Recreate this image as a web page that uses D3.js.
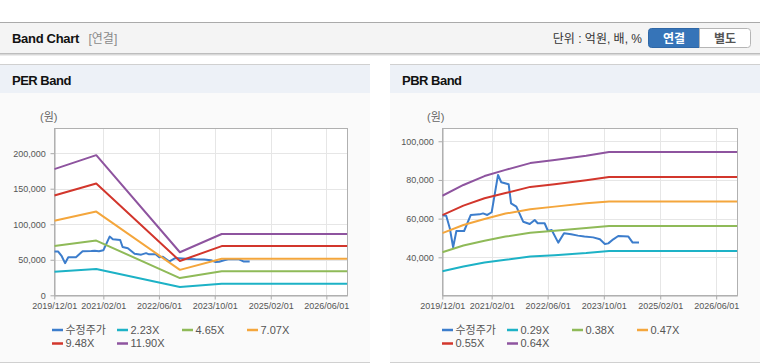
<!DOCTYPE html>
<html><head><meta charset="utf-8">
<script src="https://cdn.jsdelivr.net/npm/d3@7"></script>
<style>
body{margin:0;background:#fff;}
svg{display:block;font-family:"Liberation Sans",Arial,"Noto Sans CJK KR",sans-serif;}
</style>
</head><body>
<svg id="c" width="760" height="364"></svg>
<script>
// ---------- DATA ----------
const priceDates = ["2019-12-01","2020-01-04","2020-02-04","2020-03-04","2020-04-01","2020-06-07","2020-08-04","2020-10-19","2020-11-18","2020-12-25","2021-02-01","2021-03-28","2021-04-25","2021-06-28","2021-07-19","2021-09-03","2021-11-01","2021-12-28","2022-02-09","2022-03-07","2022-05-06","2022-06-04","2022-07-06","2022-09-01","2022-10-21","2022-12-22","2023-02-19","2023-04-16","2023-07-01","2023-08-28","2023-10-10","2023-11-09","2023-12-22","2024-02-03","2024-05-01","2024-06-07","2024-08-01"];
const priceValues = [61700,61500,55000,45200,53600,53600,61900,62200,62700,61900,63300,82600,78800,77800,67900,66200,58400,57200,59300,57600,57600,53600,54100,47600,52400,51900,51200,50700,50300,49300,46900,47200,49300,51000,50700,47600,47600];

const perBandDates = ["2019-12-01","2020-12-01","2022-12-01","2023-12-01","2026-12-01"];
const per223 = [33300,37000,11600,16200,16200];
const per465 = [69400,77000,24200,33900,33900];
const per707 = [105000,117800,35800,51500,51500];
const per948 = [140500,157400,48300,69200,69200];
const per1190 = [177500,197200,60600,86300,86300];
const perLegend = ["수정주가","2.23X","4.65X","7.07X","9.48X","11.90X"];
const perYTicks = [0,50000,100000,150000,200000];
const perYDomain = [0,235000];

const pbrBandDates = ["2019-12-01","2020-06-01","2020-12-01","2021-06-01","2022-01-01","2022-08-01","2023-05-01","2023-11-15","2026-12-01"];
const pbr029 = [32800,35200,37300,38700,40400,41100,42200,43300,43300];
const pbr038 = [42600,46100,48600,50700,52700,53700,55100,56200,56200];
const pbr047 = [52500,56700,59800,62600,64900,66200,67900,68900,68900];
const pbr055 = [61800,66700,70500,73200,76400,77800,79800,81500,81500];
const pbr064 = [71800,77400,82000,85200,88700,90300,92500,94400,94400];
const pbrLegend = ["수정주가","0.29X","0.38X","0.47X","0.55X","0.64X"];
const pbrYTicks = [40000,60000,80000,100000];
const pbrYDomain = [20350,106700];

const xDomain = ["2019-12-01","2026-12-01"];
const xTickDates = ["2019-12-01","2021-02-01","2022-06-01","2023-10-01","2025-02-01","2026-06-01"];
const xTickLabels = ["2019/12/01","2021/02/01","2022/06/01","2023/10/01","2025/02/01","2026/06/01"];

const seriesColors = ["#3c7dcc","#1db2c6","#8fba58","#f4a63c","#d2362c","#8e549f"];

// ---------- LAYOUT ----------
const svg = d3.select("#c");
const parse = d3.timeParse("%Y-%m-%d");

// header
svg.append("rect").attr("x",0).attr("y",22).attr("width",760).attr("height",31).attr("fill","#f4f4f4");
svg.append("line").attr("x1",0).attr("x2",760).attr("y1",22.5).attr("y2",22.5).attr("stroke","#aaa");
[["#bdbdbd",53.5],["#d8d8d8",54.5],["#ececec",55.5]].forEach(([c,y])=>
  svg.append("line").attr("x1",0).attr("x2",760).attr("y1",y).attr("y2",y).attr("stroke",c));
svg.append("text").attr("x",12).attr("y",43).attr("font-size",13).attr("font-weight","bold")
  .attr("letter-spacing","-0.3").attr("fill","#111").text("Band Chart");
svg.append("text").attr("x",88.5).attr("y",42.5).attr("font-size",12).attr("fill","#8a8a8a").text("[연결]");
svg.append("text").attr("x",642).attr("y",43).attr("font-size",12).attr("text-anchor","end").attr("fill","#333").text("단위 : 억원, 배, %");
// buttons
svg.append("path").attr("d","M699.5,28.5 H651.5 Q648.5,28.5 648.5,31.5 V44.5 Q648.5,47.5 651.5,47.5 H699.5 Z")
  .attr("fill","#3674b8").attr("stroke","#2f67a6");
svg.append("path").attr("d","M699.5,28.5 H747.5 Q750.5,28.5 750.5,31.5 V44.5 Q750.5,47.5 747.5,47.5 H699.5 Z")
  .attr("fill","#fff").attr("stroke","#b5b5b5");
svg.append("text").attr("x",674).attr("y",42.5).attr("text-anchor","middle").attr("font-size",12).attr("font-weight","bold").attr("fill","#fff").text("연결");
svg.append("text").attr("x",725).attr("y",42.5).attr("text-anchor","middle").attr("font-size",12).attr("font-weight","bold").attr("fill","#555").text("별도");

function panel(x0, x1, title){
  svg.append("rect").attr("x",x0).attr("y",64).attr("width",x1-x0).attr("height",299).attr("fill","#fafafa");
  svg.append("rect").attr("x",x0).attr("y",64).attr("width",x1-x0).attr("height",29).attr("fill","#edf1f7");
  svg.append("line").attr("x1",x0).attr("x2",x1).attr("y1",64.5).attr("y2",64.5).attr("stroke","#d0d0d0");
  svg.append("line").attr("x1",x0).attr("x2",x1).attr("y1",362.5).attr("y2",362.5).attr("stroke","#d0d0d0");
  svg.append("text").attr("x",x0+12).attr("y",85).attr("font-size",13).attr("font-weight","bold")
    .attr("letter-spacing","-0.5").attr("fill","#111").text(title);
}
panel(0,370,"PER Band");
panel(390,760,"PBR Band");

function chart(o){
  const g = svg.append("g");
  const x = d3.scaleTime().domain(xDomain.map(parse)).range([o.left,o.right]);
  const y = d3.scaleLinear().domain(o.yDomain).range([o.bottom,o.top]);
  g.append("rect").attr("x",o.left).attr("y",o.top).attr("width",o.right-o.left).attr("height",o.bottom-o.top).attr("fill","#fff");
  // grid
  g.selectAll(".gx").data(xTickDates).enter().append("line")
    .attr("x1",d=>Math.round(x(parse(d)))+0.5).attr("x2",d=>Math.round(x(parse(d)))+0.5)
    .attr("y1",o.top).attr("y2",o.bottom).attr("stroke","#e6e6e6");
  g.selectAll(".gy").data(o.yTicks).enter().append("line")
    .attr("x1",o.left).attr("x2",o.right)
    .attr("y1",d=>Math.round(y(d))+0.5).attr("y2",d=>Math.round(y(d))+0.5).attr("stroke","#e6e6e6");
  // axes
  const xa = d3.axisBottom(x).tickValues(xTickDates.map(parse)).tickFormat((d,i)=>xTickLabels[i]).tickSize(4).tickSizeOuter(0);
  const ya = d3.axisLeft(y).tickValues(o.yTicks).tickFormat(d3.format(",")).tickSize(4).tickSizeOuter(0);
  const gx = g.append("g").attr("transform",`translate(0,${Math.round(o.bottom)+0.5})`).call(xa);
  const gy = g.append("g").attr("transform",`translate(${Math.round(o.left)+0.5},0)`).call(ya);
  [gx,gy].forEach(a=>{
    a.selectAll("path,line").attr("stroke","#aaa");
    a.selectAll("text").attr("font-size",9).attr("fill","#555").attr("font-family","inherit");
  });
  gx.selectAll("text").attr("dy","0.71em");
  gy.selectAll("text").attr("dx","-0.2em");
  // frame
  g.append("rect").attr("x",Math.round(o.left)+0.5).attr("y",Math.round(o.top)+0.5)
    .attr("width",Math.round(o.right-o.left)).attr("height",Math.round(o.bottom-o.top))
    .attr("fill","none").attr("stroke","#b0b0b0");
  g.append("text").attr("x",o.unitX).attr("y",121).attr("font-size",11).attr("fill","#666").text("(원)");
  // lines
  const line = d3.line().x(d=>x(d[0])).y(d=>y(d[1]));
  const clip = "clip"+o.id;
  svg.append("clipPath").attr("id",clip).append("rect").attr("x",o.left).attr("y",o.top).attr("width",o.right-o.left).attr("height",o.bottom-o.top);
  const lg = g.append("g").attr("clip-path",`url(#${clip})`);
  const all = [{dates:priceDates, vals:priceValues}].concat(o.bands.map(b=>({dates:o.bandDates, vals:b})));
  all.forEach((s,i)=>{
    lg.append("path").datum(s.dates.map((d,j)=>[parse(d),s.vals[j]]))
      .attr("d",line).attr("fill","none").attr("stroke",seriesColors[i])
      .attr("stroke-width",2).attr("stroke-linejoin","round");
  });
  // legend
  o.legend.forEach((t,i)=>{
    const lx = o.legendX + (i%4)*65;
    const ly = 330 + Math.floor(i/4)*13.5;
    g.append("line").attr("x1",lx).attr("x2",lx+11).attr("y1",ly).attr("y2",ly)
      .attr("stroke",seriesColors[i]).attr("stroke-width",2.5);
    g.append("text").attr("x",lx+13.5).attr("y",ly).attr("dy","0.36em").attr("font-size",11).attr("fill","#555").text(t);
  });
}

chart({id:"per", left:54.3, right:347.3, top:128.3, bottom:295.3, yDomain:perYDomain, yTicks:perYTicks,
  bandDates:perBandDates, bands:[per223,per465,per707,per948,per1190], legend:perLegend, legendX:52, unitX:40});
chart({id:"pbr", left:442.3, right:737.3, top:128.3, bottom:295.3, yDomain:pbrYDomain, yTicks:pbrYTicks,
  bandDates:pbrBandDates, bands:[pbr029,pbr038,pbr047,pbr055,pbr064], legend:pbrLegend, legendX:442, unitX:427});
</script>
</body></html>
